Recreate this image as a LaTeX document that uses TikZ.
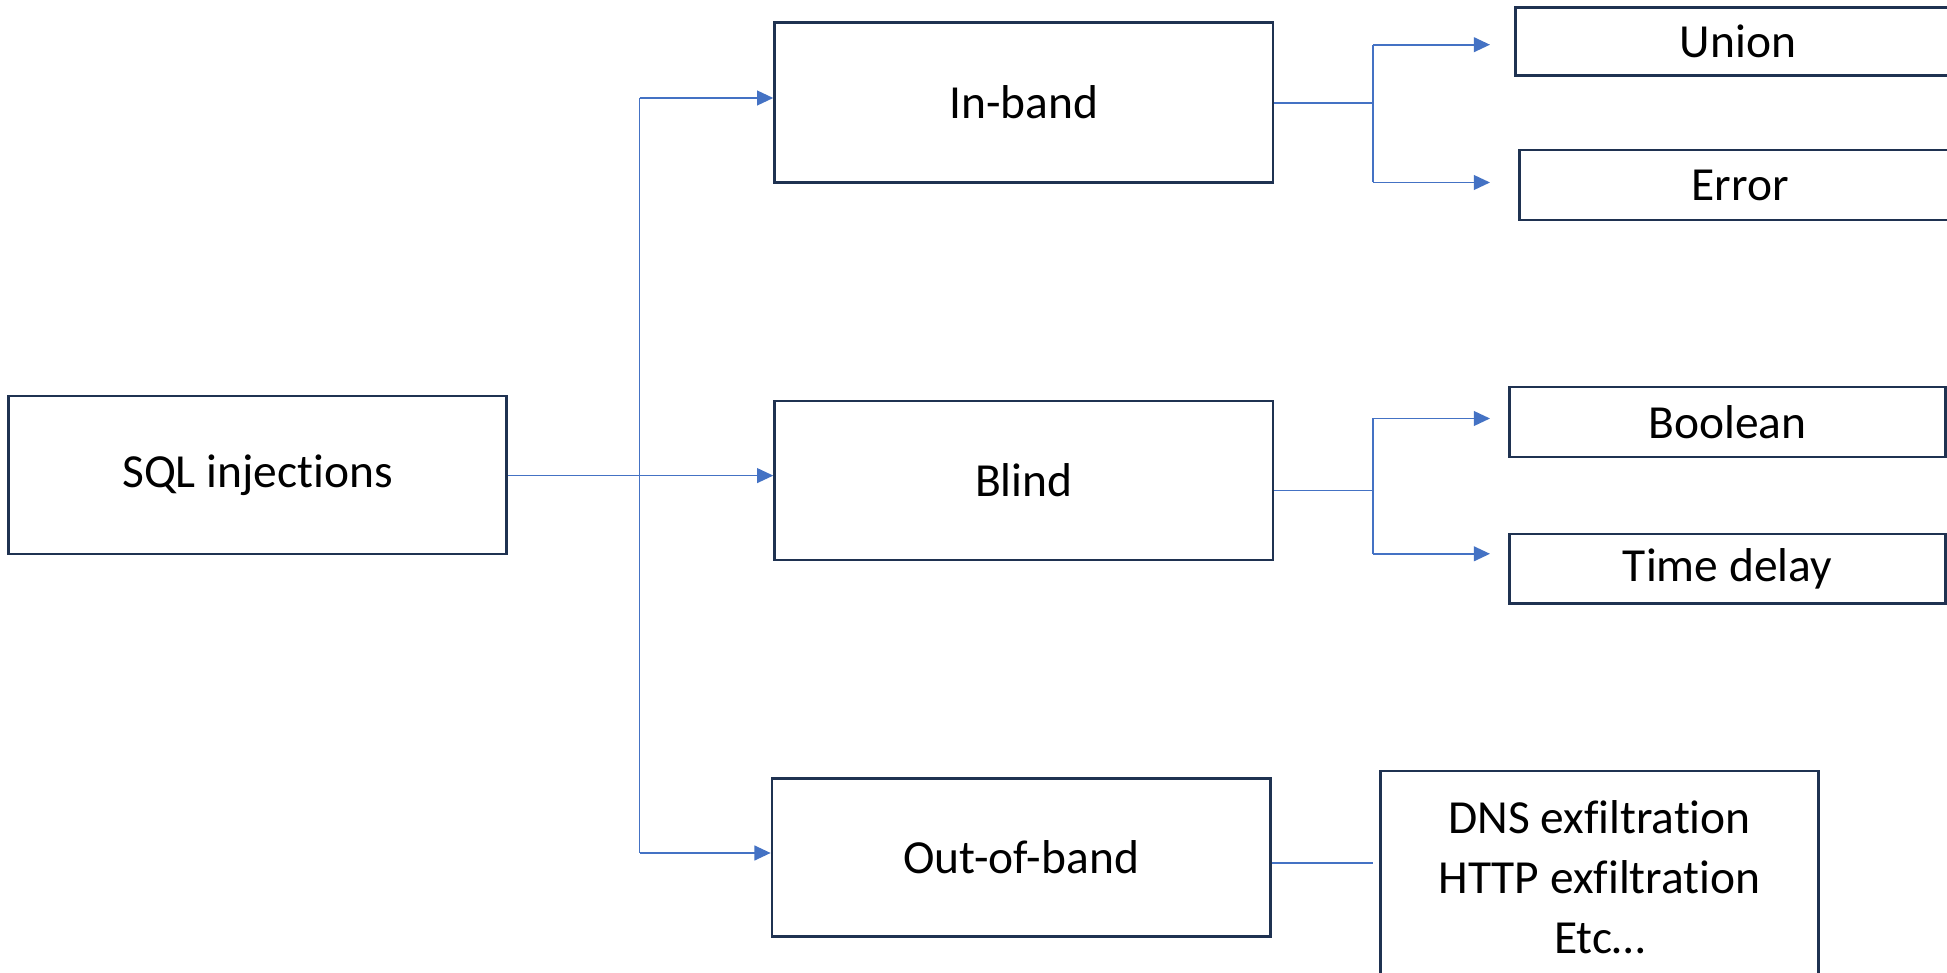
\documentclass[tikz,border=0pt]{standalone}
\usepackage{fontspec}
\setmainfont{Carlito}[Ligatures=NoCommon]
\usetikzlibrary{arrows.meta}
\definecolor{boxline}{HTML}{1F3251}
\definecolor{conn}{HTML}{4472C4}
\tikzset{
  box/.style={draw=boxline, line width=0.8pt, fill=white, inner sep=0pt, align=center,
    font=\fontsize{13.5pt}{17pt}\selectfont},
  link/.style={draw=conn, line width=0.5pt},
  linkarrow/.style={link, -{Triangle[length=4.6pt,width=4.2pt]}}
}
\begin{document}
\begin{tikzpicture}[x=0.01cm,y=-0.01cm]
\useasboundingbox (0,0) rectangle (1947,973);
\fill[white] (0,0) rectangle (1947,973);
\clip (0,0) rectangle (1947,973);

\node[box, minimum width=4.98cm, minimum height=1.58cm] (sql) at (257.6,475) {SQL injections};
\node[box, minimum width=4.98cm, minimum height=1.60cm] (inband) at (1023.8,102.4) {In-band};
\node[box, minimum width=4.98cm, minimum height=1.59cm] (blind) at (1023.8,480.5) {Blind};
\node[box, minimum width=4.98cm, minimum height=1.58cm] (oob) at (1021.2,857.3) {Out-of-band};

\node[box, minimum width=4.44cm, minimum height=0.68cm] (union) at (1738,41.6) {Union};
\node[box, minimum width=4.40cm, minimum height=0.70cm] (error) at (1740,185) {Error};
\node[box, minimum width=4.35cm, minimum height=0.70cm] (boolean) at (1727.5,422) {Boolean};
\node[box, minimum width=4.35cm, minimum height=0.695cm] (timedelay) at (1727.5,568.8) {Time delay};
\node[box, minimum width=4.37cm, minimum height=2.12cm] (dns) at (1599.5,877) {DNS exfiltration\\HTTP exfiltration\\Etc…};

% main trunk
\coordinate (t1) at (639.5,98);
\coordinate (tm) at (639.5,475.6);
\coordinate (t2) at (639.5,853);
\draw[link] (t1) -- (t2);
\draw[linkarrow] (sql.east |- tm) -- (tm -| blind.west);
\draw[linkarrow] (t1) -- (t1 -| inband.west);
\draw[linkarrow] (t2) -- (t2 -| oob.west);

% in-band branch
\coordinate (ia) at (1373,103);
\coordinate (ib) at (1373,44.7);
\coordinate (ic) at (1373,182.5);
\coordinate (iu) at (1490,44.7);
\coordinate (ie) at (1490,182.5);
\draw[link] (inband.east |- ia) -- (ia);
\draw[link] (ib) -- (ic);
\draw[linkarrow] (ib) -- (iu);
\draw[linkarrow] (ic) -- (ie);

% blind branch
\coordinate (ba) at (1373,490.5);
\coordinate (bb) at (1373,418.5);
\coordinate (bc) at (1373,553.8);
\coordinate (bu) at (1490,418.5);
\coordinate (be) at (1490,553.8);
\draw[link] (blind.east |- ba) -- (ba);
\draw[link] (bb) -- (bc);
\draw[linkarrow] (bb) -- (bu);
\draw[linkarrow] (bc) -- (be);

% out-of-band
\coordinate (oa) at (1373,863);
\draw[link] (oob.east |- oa) -- (oa);
\end{tikzpicture}
\end{document}
